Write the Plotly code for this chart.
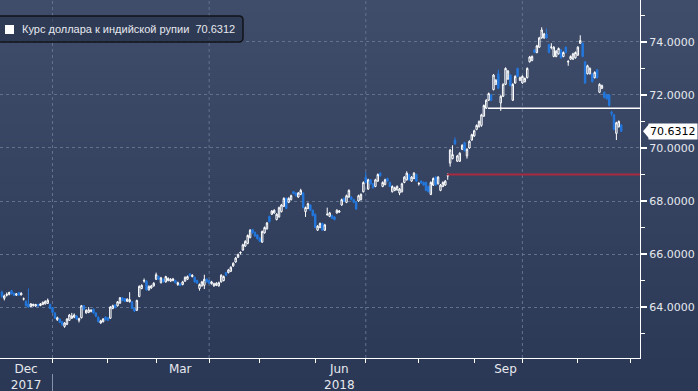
import plotly.graph_objects as go
import pandas as pd

# ---------------- data ----------------
series_name = "Курс доллара к индийской рупии"

open_ = [
    64.57, 64.33, 64.44, 64.48, 64.62, 64.52, 64.45, 64.55, 64.46, 64.30,
    64.22, 64.12, 64.02, 64.05, 64.04, 64.10, 64.06, 64.10, 64.12, 64.14,
    64.10, 63.98, 63.78, 63.52, 63.55, 63.45, 63.27, 63.35, 63.50, 63.58,
    63.62, 63.66, 63.50, 63.60, 64.05, 63.78, 63.80, 63.84, 63.92, 63.78,
    63.62, 63.40, 63.45, 63.62, 63.60, 63.58, 63.95, 64.08, 64.05, 64.15,
    64.35, 64.32, 64.22, 64.20, 64.20, 63.95, 63.88, 64.40, 64.70, 64.98,
    64.98, 64.65, 64.72, 64.80, 65.05, 65.15, 64.92, 65.05, 64.95, 65.00,
    64.98, 65.00, 65.00, 64.85, 64.88, 64.85, 64.98, 65.05, 65.25, 65.15,
    65.12, 65.00, 64.70, 64.80, 64.82, 65.05, 65.00, 64.88, 64.80, 64.82,
    64.80, 64.95, 65.00, 65.30, 65.30, 65.35, 65.55, 65.70, 65.88, 66.04,
    66.15, 66.30, 66.40, 66.62, 66.92, 66.82, 66.72, 66.60, 66.45, 66.80,
    66.95, 67.42, 67.50, 67.55, 67.30, 67.40, 67.60, 67.80, 68.10, 67.95,
    68.05, 68.35, 68.30, 68.15, 68.25, 68.30, 67.60, 67.72, 67.85, 67.65,
    67.50, 66.90, 67.00, 67.15, 66.90, 67.48, 67.42, 67.45, 67.40, 67.55,
    67.58, 67.85, 68.10, 67.95, 68.15, 68.15, 68.05, 67.95, 68.00, 68.05,
    68.35, 68.90, 68.45, 68.80, 68.65, 68.55, 68.75, 69.05, 68.55, 68.62,
    68.85, 68.70, 68.35, 68.40, 68.42, 68.30, 68.35, 68.70, 68.80, 69.00,
    68.75, 68.85, 69.00, 68.64, 68.75, 68.70, 68.70, 68.55, 68.25, 68.60,
    68.90, 68.65, 68.40, 68.55, 68.60, 68.94, 69.43, 69.60, 70.30, 69.50,
    69.50, 69.95, 70.20, 69.70, 70.00, 70.30, 70.45, 70.70, 70.80, 70.85,
    71.20, 71.50, 71.80, 72.00, 72.20, 72.40, 72.80, 71.70, 71.95, 72.40,
    72.60, 72.75, 71.80, 72.45, 73.00, 72.55, 72.45, 72.50, 72.65, 73.25,
    73.30, 73.70, 73.60, 73.80, 74.15, 74.15, 74.30, 73.90, 73.79, 73.45,
    73.45, 73.55, 73.70, 73.45, 73.80, 73.24, 73.35, 73.35, 73.40, 73.50,
    73.95, 73.95, 73.25, 72.80, 72.80, 72.80, 72.65, 72.95, 72.10, 72.25,
    72.10, 72.00, 72.00, 71.35, 71.25, 70.55, 70.80, 70.87,
]

high = [
    64.62, 64.47, 64.55, 64.58, 64.65, 64.55, 64.53, 64.57, 64.56, 64.36,
    64.25, 64.70, 64.15, 64.13, 64.12, 64.12, 64.15, 64.21, 64.25, 64.32,
    64.13, 64.00, 63.80, 63.64, 63.58, 63.48, 63.43, 63.58, 63.74, 63.78,
    63.76, 63.70, 63.60, 64.08, 64.08, 63.92, 64.00, 63.92, 63.95, 63.80,
    63.65, 63.52, 63.58, 63.65, 63.62, 64.04, 64.09, 64.10, 64.23, 64.38,
    64.38, 64.34, 64.33, 64.56, 64.23, 63.98, 64.28, 64.82, 64.86, 65.08,
    65.01, 64.82, 64.84, 64.94, 65.30, 65.18, 65.14, 65.08, 65.18, 65.12,
    65.09, 65.10, 65.03, 64.96, 64.91, 64.99, 65.16, 65.19, 65.28, 65.24,
    65.15, 65.03, 64.89, 64.99, 65.22, 65.08, 65.03, 64.99, 64.92, 64.94,
    64.96, 65.24, 65.19, 65.33, 65.44, 65.54, 65.69, 65.89, 66.02, 66.10,
    66.39, 66.52, 66.74, 66.94, 66.95, 66.85, 66.75, 66.63, 66.89, 67.04,
    67.21, 67.45, 67.66, 67.69, 67.54, 67.79, 67.89, 68.14, 68.13, 68.14,
    68.24, 68.38, 68.33, 68.34, 68.46, 68.33, 67.79, 67.94, 67.88, 67.68,
    67.53, 67.09, 67.19, 67.18, 67.14, 67.75, 67.59, 67.48, 67.43, 67.69,
    67.66, 68.09, 68.13, 68.24, 68.44, 68.18, 68.08, 67.98, 68.24, 68.29,
    68.74, 69.10, 68.84, 68.83, 68.68, 68.84, 69.04, 69.08, 68.74, 68.84,
    68.88, 68.73, 68.59, 68.54, 68.59, 68.49, 68.69, 68.94, 69.12, 69.03,
    68.94, 69.09, 69.03, 68.72, 68.78, 68.73, 68.73, 68.58, 68.74, 68.89,
    68.93, 68.94, 68.64, 68.74, 68.79, 69.05, 69.96, 70.10, 70.40, 69.74,
    69.84, 70.14, 70.23, 69.99, 70.29, 70.54, 70.69, 70.89, 71.04, 71.29,
    71.64, 71.84, 72.09, 72.03, 72.79, 72.60, 72.95, 71.99, 72.44, 73.04,
    72.94, 72.78, 72.44, 72.74, 73.03, 72.69, 72.74, 72.66, 73.04, 73.47,
    73.49, 73.73, 73.89, 74.19, 74.55, 74.34, 74.50, 73.93, 73.95, 73.84,
    73.69, 73.79, 73.73, 73.64, 73.83, 73.32, 73.49, 73.59, 73.64, 73.84,
    74.25, 73.98, 73.28, 73.14, 73.04, 72.83, 72.89, 72.98, 72.44, 72.39,
    72.13, 72.03, 72.03, 71.40, 71.28, 70.99, 71.04, 70.90,
]

low = [
    64.35, 64.25, 64.40, 64.44, 64.47, 64.41, 64.42, 64.43, 64.44, 64.25,
    64.02, 63.98, 64.00, 64.02, 64.01, 64.01, 64.03, 64.07, 64.10, 64.12,
    63.92, 63.77, 63.55, 63.48, 63.40, 63.30, 63.22, 63.32, 63.48, 63.55,
    63.58, 63.52, 63.42, 63.57, 63.88, 63.75, 63.77, 63.80, 63.75, 63.62,
    63.42, 63.37, 63.42, 63.49, 63.47, 63.55, 63.92, 63.95, 64.02, 64.12,
    64.22, 64.19, 64.19, 64.17, 63.92, 63.82, 63.85, 64.37, 64.67, 64.92,
    64.62, 64.62, 64.69, 64.77, 65.02, 65.02, 64.89, 64.92, 64.92, 64.97,
    64.95, 64.97, 64.89, 64.80, 64.79, 64.82, 64.95, 65.02, 65.15, 65.12,
    64.92, 64.87, 64.62, 64.77, 64.68, 64.92, 64.87, 64.85, 64.77, 64.79,
    64.77, 64.92, 64.97, 65.17, 65.27, 65.32, 65.52, 65.67, 65.85, 65.98,
    66.12, 66.27, 66.37, 66.59, 66.77, 66.65, 66.55, 66.45, 66.42, 66.77,
    66.92, 67.19, 67.47, 67.52, 67.27, 67.37, 67.57, 67.77, 67.69, 67.92,
    68.02, 68.25, 68.17, 68.12, 68.22, 67.72, 67.40, 67.69, 67.62, 67.42,
    66.97, 66.87, 66.97, 66.87, 66.87, 67.45, 67.39, 67.32, 67.27, 67.52,
    67.55, 67.82, 67.97, 67.92, 68.12, 68.02, 67.92, 67.67, 67.97, 68.02,
    68.32, 68.67, 68.42, 68.62, 68.47, 68.52, 68.72, 68.92, 68.52, 68.59,
    68.72, 68.52, 68.32, 68.37, 68.39, 68.22, 68.32, 68.67, 68.77, 68.77,
    68.72, 68.82, 68.72, 68.58, 68.65, 68.57, 68.37, 68.32, 68.22, 68.57,
    68.57, 68.62, 68.37, 68.52, 68.57, 68.80, 69.30, 69.57, 70.12, 69.47,
    69.47, 69.92, 69.87, 69.60, 69.97, 70.27, 70.42, 70.67, 70.77, 70.80,
    71.17, 71.47, 71.77, 71.77, 72.17, 72.37, 72.22, 71.40, 71.92, 72.37,
    72.57, 72.32, 71.77, 72.42, 72.67, 72.52, 72.42, 72.47, 72.62, 73.22,
    73.27, 73.57, 73.57, 73.77, 74.12, 74.12, 74.12, 73.57, 73.72, 73.42,
    73.42, 73.52, 73.37, 73.42, 73.57, 73.10, 73.32, 73.32, 73.37, 73.47,
    73.92, 73.42, 72.42, 72.77, 72.77, 72.47, 72.62, 72.62, 72.07, 72.22,
    71.87, 71.82, 71.57, 71.20, 70.67, 70.30, 70.77, 70.60,
]

close = [
    64.40, 64.42, 64.48, 64.55, 64.50, 64.44, 64.50, 64.45, 64.52, 64.31,
    64.05, 64.00, 64.12, 64.10, 64.10, 64.04, 64.12, 64.18, 64.22, 64.26,
    63.95, 63.80, 63.58, 63.60, 63.42, 63.33, 63.40, 63.55, 63.70, 63.66,
    63.70, 63.55, 63.56, 64.05, 63.92, 63.88, 63.90, 63.88, 63.78, 63.65,
    63.45, 63.48, 63.55, 63.52, 63.50, 64.00, 64.05, 63.98, 64.20, 64.35,
    64.25, 64.22, 64.30, 64.28, 63.95, 63.85, 64.25, 64.78, 64.82, 65.00,
    64.65, 64.78, 64.80, 64.90, 65.22, 65.05, 65.10, 64.95, 65.15, 65.08,
    65.05, 65.06, 64.92, 64.92, 64.82, 64.95, 65.12, 65.15, 65.18, 65.20,
    64.95, 64.90, 64.85, 64.95, 65.05, 64.95, 64.90, 64.95, 64.88, 64.90,
    64.92, 65.20, 65.15, 65.20, 65.40, 65.50, 65.65, 65.85, 65.98, 66.06,
    66.35, 66.48, 66.70, 66.90, 66.80, 66.68, 66.58, 66.48, 66.85, 67.00,
    67.17, 67.22, 67.62, 67.65, 67.50, 67.75, 67.85, 68.10, 67.72, 68.10,
    68.20, 68.28, 68.20, 68.30, 68.40, 67.75, 67.75, 67.90, 67.65, 67.45,
    67.00, 67.05, 67.15, 66.90, 67.10, 67.50, 67.55, 67.35, 67.30, 67.65,
    67.62, 68.05, 68.00, 68.20, 68.40, 68.05, 67.95, 67.70, 68.20, 68.25,
    68.70, 68.70, 68.80, 68.65, 68.50, 68.80, 69.00, 68.95, 68.70, 68.80,
    68.75, 68.55, 68.55, 68.50, 68.55, 68.45, 68.65, 68.90, 69.05, 68.80,
    68.90, 69.05, 68.75, 68.66, 68.68, 68.60, 68.40, 68.35, 68.70, 68.85,
    68.60, 68.90, 68.60, 68.70, 68.75, 68.96, 69.92, 69.75, 70.15, 69.70,
    69.80, 70.10, 69.90, 69.95, 70.25, 70.50, 70.65, 70.85, 71.00, 71.25,
    71.60, 71.80, 72.05, 71.80, 72.75, 72.55, 72.25, 71.95, 72.40, 73.00,
    72.90, 72.35, 72.40, 72.70, 72.70, 72.65, 72.70, 72.62, 73.00, 73.43,
    73.45, 73.60, 73.85, 74.15, 74.45, 74.30, 74.15, 73.60, 73.81, 73.80,
    73.65, 73.75, 73.40, 73.60, 73.60, 73.26, 73.45, 73.55, 73.60, 73.80,
    74.05, 73.45, 72.45, 73.10, 73.00, 72.50, 72.85, 72.65, 72.40, 72.35,
    71.90, 71.85, 71.60, 71.30, 70.70, 70.95, 71.00, 70.6312,
]

first_session = "2017-12-01"
dates = pd.bdate_range(first_session, periods=len(close))

month_starts = ["2018-01-01", "2018-02-01", "2018-03-01", "2018-04-02",
                "2018-05-01", "2018-06-01", "2018-07-02", "2018-08-01",
                "2018-09-03", "2018-10-01", "2018-11-01", "2018-12-03"]
quarter_starts = ["2018-01-01", "2018-04-02", "2018-07-02", "2018-10-01"]
label_dates = ["2017-12-15", "2018-03-15", "2018-06-15", "2018-09-20"]
label_text = ["Dec<br>2017", "Mar", "Jun<br>2018", "Sep"]
year_break = "2018-01-01"

y_major = [64, 66, 68, 70, 72, 74]
y_minor = [63, 65, 67, 69, 71, 73, 75]
x_range = ["2017-11-30 05:00", "2018-12-06 19:00"]
y_range = [62.08, 75.58]

support_level = 69.0
support_start = "2018-08-16 17:00"
resistance_level = 71.5
resistance_start = "2018-09-10 17:00"

# ---------------- style ----------------
W, H = 698, 391
M_L, M_R, M_T, M_B = 0, 58, 0, 33
PW, PH = W - M_L - M_R, H - M_T - M_B
BG_TOP = (63, 77, 107)
BG_BOT = (42, 56, 86)
GRID = "#61728f"
TXT = "#e6e8ee"
BLUE = "#2378de"
FONT = "DejaVu Sans"


def px_x(p):
    return (p - M_L) / PW


def px_y(p):
    return (PH + M_T - p) / PH


fig = go.Figure()

fig.add_trace(go.Candlestick(
    x=dates, open=open_, high=high, low=low, close=close,
    name=series_name, showlegend=False,
    increasing=dict(line=dict(color="#ffffff", width=1), fillcolor="rgba(0,0,0,0)"),
    decreasing=dict(line=dict(color=BLUE, width=1), fillcolor=BLUE),
    whiskerwidth=0,
))

shapes = []
# background gradient over the whole page
n_bands = 60
for i in range(n_bands):
    t = i / (n_bands - 1)
    c = tuple(round(BG_TOP[k] + (BG_BOT[k] - BG_TOP[k]) * t) for k in range(3))
    p0 = H * i / n_bands
    p1 = H * (i + 1) / n_bands + 1
    shapes.append(dict(type="rect", xref="paper", yref="paper",
                       x0=px_x(-2), x1=px_x(W + 2), y0=px_y(p1), y1=px_y(p0),
                       fillcolor=f"rgb{c}", line=dict(width=0), layer="below"))

# vertical quarter gridlines
for q in quarter_starts:
    shapes.append(dict(type="line", xref="x", yref="paper", x0=q, x1=q, y0=0, y1=1,
                       line=dict(color=GRID, width=1, dash="3px,3px"), layer="below"))

# year separator below axis
shapes.append(dict(type="line", xref="x", yref="paper", x0=year_break, x1=year_break,
                   y0=px_y(374), y1=px_y(393), line=dict(color="#8391aa", width=1)))

# support / resistance levels
shapes.append(dict(type="line", xref="x", yref="y", x0=support_start, x1=x_range[1],
                   y0=support_level, y1=support_level,
                   line=dict(color="#a8283c", width=2)))
shapes.append(dict(type="line", xref="x", yref="y", x0=resistance_start, x1=x_range[1],
                   y0=resistance_level, y1=resistance_level,
                   line=dict(color="#ffffff", width=1.5)))

# legend box
lx0, lx1, ly0, ly1, r = -6, 243, 16, 42, 4
path = (f"M {px_x(lx0)},{px_y(ly0)} L {px_x(lx1 - r)},{px_y(ly0)} "
        f"Q {px_x(lx1)},{px_y(ly0)} {px_x(lx1)},{px_y(ly0 + r)} "
        f"L {px_x(lx1)},{px_y(ly1 - r)} "
        f"Q {px_x(lx1)},{px_y(ly1)} {px_x(lx1 - r)},{px_y(ly1)} "
        f"L {px_x(lx0)},{px_y(ly1)} Z")
shapes.append(dict(type="path", xref="paper", yref="paper", path=path,
                   fillcolor="rgba(34,45,68,0.55)", line=dict(color="#111318", width=1.5)))
shapes.append(dict(type="rect", xref="paper", yref="paper",
                   x0=px_x(5), x1=px_x(14), y0=px_y(34), y1=px_y(25),
                   fillcolor="#ffffff", line=dict(width=0)))

# last price tag pointer
last = close[-1]
dy = 7 / (PH / (y_range[1] - y_range[0]))
shapes.append(dict(type="path", xref="paper", yref="y",
                   path=f"M {px_x(643)},{last} L {px_x(649)},{last + dy} L {px_x(649)},{last - dy} Z",
                   fillcolor="#ffffff", line=dict(width=0)))

annotations = [
    dict(xref="paper", yref="paper", x=px_x(20), y=px_y(29.5), xanchor="left", yanchor="middle",
         text=f"{series_name}  {last:.4f}", showarrow=False,
         font=dict(family="Liberation Sans", size=11, color=TXT)),
    dict(xref="paper", yref="y", x=px_x(648), y=last, xanchor="left", yanchor="middle",
         text=f"{last:.4f}", showarrow=False, bgcolor="#ffffff", borderpad=1,
         font=dict(family=FONT, size=11, color="#000000")),
]

fig.update_layout(
    width=W, height=H,
    margin=dict(l=M_L, r=M_R, t=M_T, b=M_B, pad=0),
    paper_bgcolor=f"rgb{BG_BOT}",
    plot_bgcolor="rgba(0,0,0,0)",
    showlegend=False,
    boxgap=0.15,
    shapes=shapes,
    annotations=annotations,
    xaxis=dict(
        type="date", range=x_range,
        rangebreaks=[dict(bounds=["sat", "mon"])],
        rangeslider=dict(visible=False),
        tickmode="array", tickvals=label_dates, ticktext=label_text,
        ticks="", showgrid=False, zeroline=False,
        showline=True, linecolor="#ffffff", linewidth=1,
        tickfont=dict(family=FONT, size=12, color=TXT),
        minor=dict(tickmode="array", tickvals=month_starts, ticks="outside",
                   ticklen=4, tickwidth=1, tickcolor="#ffffff", showgrid=False),
    ),
    yaxis=dict(
        side="right", range=y_range,
        tickmode="array", tickvals=y_major, tickformat=".4f",
        showgrid=True, gridcolor=GRID, griddash="3px,3px", gridwidth=1,
        zeroline=False, showline=True, linecolor="#ffffff", linewidth=1,
        ticks="outside", ticklen=6, tickwidth=2, tickcolor="#ffffff",
        tickfont=dict(family=FONT, size=11, color=TXT),
        minor=dict(tickmode="array", tickvals=y_minor, ticks="outside",
                   ticklen=4, tickwidth=1, tickcolor="#ffffff", showgrid=False),
    ),
)

fig.write_html(
    "out.html",
    config={"displayModeBar": False},
    post_script="document.body.style.margin='0';document.body.style.background='rgb(42,56,86)';",
)
